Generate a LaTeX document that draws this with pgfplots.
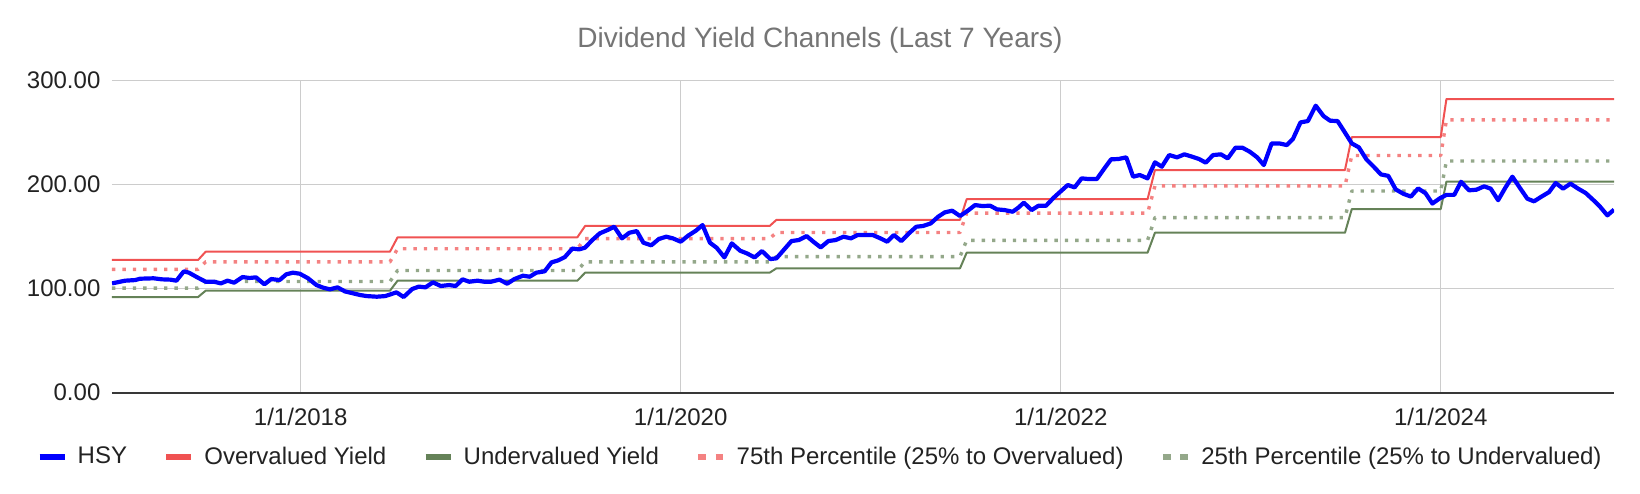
\documentclass[border=0pt]{standalone}
\usepackage{pgfplots}
\pgfplotsset{compat=1.18}
\usepackage{fontspec}
\setmainfont{Liberation Sans}
\definecolor{hsyblue}{RGB}{0,0,255}
\definecolor{overred}{RGB}{240,82,82}
\definecolor{undergreen}{RGB}{101,130,88}
\definecolor{pctred}{RGB}{244,130,130}
\definecolor{pctgreen}{RGB}{148,168,138}
\definecolor{gridgray}{RGB}{204,204,204}
\definecolor{titlegray}{RGB}{117,117,117}
\definecolor{txt}{RGB}{34,34,34}
\begin{document}
\begin{tikzpicture}
\useasboundingbox (0,0) rectangle (820bp,247bp);
\begin{axis}[
  at={(56bp,50.65bp)}, anchor=south west,
  width=751bp, height=156bp, scale only axis,
  xmin=2017.007, xmax=2024.912,
  ymin=0, ymax=300,
  axis line style={draw=none},
  major tick length=0pt,
  xtick={2018,2020,2022,2024},
  xticklabels={1/1/2018,1/1/2020,1/1/2022,1/1/2024},
  ytick={0,100,200,300},
  yticklabel={\pgfmathprintnumber[fixed,fixed zerofill,precision=2]{\tick}},
  /pgf/number format/assume math mode=true,
  tick label style={font=\fontsize{12bp}{14bp}\selectfont, text=txt},
  yticklabel style={xshift=-2.3bp},
  xticklabel style={yshift=-4bp},
  xmajorgrids, ymajorgrids,
  grid style={gridgray, line width=0.6bp},
  extra y ticks={0},
  extra y tick labels={},
  extra y tick style={grid style={draw=txt!90, line width=1.1bp}},
  reverse legend,
  legend columns=-1,
  legend style={at={(0.472,-0.206)}, anchor=center, draw=none, fill=none,
    font=\fontsize{12bp}{14bp}\selectfont, text=txt,
    /tikz/every even column/.append style={column sep=16bp},
    /tikz/every odd column/.append style={column sep=3bp}},
  line join=round,
]
% 25th percentile
\addplot[pctgreen, line width=1.7bp, dash pattern=on 1.7bp off 3.5bp,
  legend image code/.code={\draw[pctgreen, solid, line width=3.4bp] (0bp,0bp) -- (3.8bp,0bp); \draw[pctgreen, solid, line width=3.4bp] (8.7bp,0bp) -- (12.5bp,0bp);}]
coordinates {(2017.007,100.6) (2017.46,100.6) (2017.50,106.9) (2018.47,106.9) (2018.51,117.5) (2019.456,117.5) (2019.497,125.8) (2020.468,125.8) (2020.504,130.9) (2021.47,130.9) (2021.505,146.5) (2022.457,146.5) (2022.496,168.4) (2023.496,168.4) (2023.532,193.9) (2024.0,193.9) (2024.03,222.8) (2024.912,222.8)};
\addlegendentry{25th Percentile (25\% to Undervalued)}
% 75th percentile
\addplot[pctred, line width=1.7bp, dash pattern=on 1.7bp off 3.5bp,
  legend image code/.code={\draw[pctred, solid, line width=3.4bp] (0bp,0bp) -- (3.8bp,0bp); \draw[pctred, solid, line width=3.4bp] (8.7bp,0bp) -- (12.5bp,0bp);}]
coordinates {(2017.007,118.6) (2017.46,118.6) (2017.50,125.8) (2018.47,125.8) (2018.51,138.4) (2019.456,138.4) (2019.497,148.2) (2020.468,148.2) (2020.504,154.0) (2021.47,154.0) (2021.505,172.6) (2022.457,172.6) (2022.496,198.8) (2023.496,198.8) (2023.532,228.1) (2024.0,228.1) (2024.03,262.3) (2024.912,262.3)};
\addlegendentry{75th Percentile (25\% to Overvalued)}
% Undervalued
\addplot[undergreen, line width=1bp,
  legend image code/.code={\draw[undergreen, solid, line width=3.2bp] (0bp,0bp) -- (12.5bp,0bp);}]
coordinates {(2017.007,92.0) (2017.46,92.0) (2017.50,98.1) (2018.47,98.1) (2018.51,107.7) (2019.456,107.7) (2019.497,115.4) (2020.468,115.4) (2020.504,119.6) (2021.47,119.6) (2021.505,134.6) (2022.457,134.6) (2022.496,153.8) (2023.496,153.8) (2023.532,176.6) (2024.0,176.6) (2024.03,202.9) (2024.912,202.9)};
\addlegendentry{Undervalued Yield}
% Overvalued
\addplot[overred, line width=1bp,
  legend image code/.code={\draw[overred, solid, line width=3.2bp] (0bp,0bp) -- (12.5bp,0bp);}]
coordinates {(2017.007,127.6) (2017.46,127.6) (2017.50,135.6) (2018.47,135.6) (2018.51,149.4) (2019.456,149.4) (2019.497,160.3) (2020.468,160.3) (2020.504,166.2) (2021.47,166.2) (2021.505,186.1) (2022.457,186.1) (2022.496,214.1) (2023.496,214.1) (2023.532,245.8) (2024.0,245.8) (2024.03,282.4) (2024.912,282.4)};
\addlegendentry{Overvalued Yield}
% HSY
\addplot[hsyblue, line width=2.1bp,
  legend image code/.code={\draw[hsyblue, solid, line width=3.2bp] (0bp,0bp) -- (12.5bp,0bp);}]
coordinates {
(2017.007,105.1) (2017.076,107.7) (2017.129,108.3) (2017.155,109.6) (2017.226,110.0) (2017.270,109.0) (2017.314,108.7) (2017.346,107.7) (2017.385,116.7) (2017.412,115.4) (2017.456,110.9) (2017.500,106.7) (2017.544,106.7) (2017.580,105.1) (2017.615,107.7) (2017.650,105.8) (2017.694,111.2) (2017.730,110.3) (2017.765,110.9) (2017.809,104.2) (2017.845,109.3) (2017.889,108.3) (2017.924,113.8) (2017.959,115.4) (2017.995,114.4)
(2018.039,110.0) (2018.083,103.5) (2018.118,101.0) (2018.154,99.4) (2018.194,101.3) (2018.233,97.4) (2018.277,95.5) (2018.313,93.9) (2018.348,92.9) (2018.401,92.3) (2018.445,92.9) (2018.472,94.5) (2018.504,96.5) (2018.542,92.0) (2018.587,99.7) (2018.622,102.0) (2018.657,101.3) (2018.696,106.1) (2018.737,102.6) (2018.781,103.5) (2018.816,102.6) (2018.852,109.0) (2018.887,106.7) (2018.931,107.7) (2018.966,106.7)
(2019.002,106.7) (2019.046,108.7) (2019.087,104.8) (2019.125,109.3) (2019.170,112.5) (2019.205,111.5) (2019.240,115.4) (2019.284,116.7) (2019.320,125.3) (2019.355,127.2) (2019.390,130.4) (2019.430,138.6) (2019.465,137.8) (2019.496,139.4) (2019.535,146.8) (2019.574,153.2) (2019.615,156.4) (2019.650,159.6) (2019.691,148.4) (2019.730,153.8) (2019.769,155.4) (2019.804,144.2) (2019.845,141.7) (2019.885,147.8) (2019.924,150.0) (2019.959,148.4)
(2020.000,145.2) (2020.039,151.0) (2020.080,155.8) (2020.115,161.2) (2020.154,144.2) (2020.189,139.4) (2020.230,130.1) (2020.269,143.6) (2020.313,136.5) (2020.348,134.0) (2020.389,130.1) (2020.428,136.2) (2020.472,128.5) (2020.504,129.2) (2020.542,137.2) (2020.583,145.8) (2020.622,146.8) (2020.663,150.6) (2020.698,145.2) (2020.737,139.7) (2020.777,145.8) (2020.816,146.8) (2020.857,150.0) (2020.896,148.4) (2020.931,151.6) (2020.975,151.6)
(2021.011,151.6) (2021.051,148.4) (2021.087,145.2) (2021.122,151.6) (2021.161,145.8) (2021.201,153.2) (2021.240,159.6) (2021.276,160.3) (2021.316,162.8) (2021.355,169.2) (2021.390,173.4) (2021.429,175.0) (2021.470,169.9) (2021.511,175.0) (2021.549,180.4) (2021.588,179.5) (2021.629,179.8) (2021.664,176.3) (2021.705,175.6) (2021.747,174.0) (2021.776,177.8) (2021.806,182.7) (2021.847,175.6) (2021.883,179.8) (2021.923,179.8) (2021.963,187.5) (2021.998,193.3)
(2022.037,199.7) (2022.073,197.4) (2022.110,206.1) (2022.149,205.4) (2022.190,205.4) (2022.230,215.7) (2022.265,224.4) (2022.304,224.7) (2022.345,226.3) (2022.381,207.7) (2022.416,209.3) (2022.457,206.1) (2022.496,221.5) (2022.532,217.3) (2022.571,228.5) (2022.612,226.3) (2022.651,229.2) (2022.692,226.9) (2022.728,224.7) (2022.763,221.2) (2022.802,228.5) (2022.843,229.2) (2022.879,225.3) (2022.920,235.6) (2022.956,235.6) (2022.995,231.7)
(2023.034,226.3) (2023.069,218.9) (2023.110,239.7) (2023.151,239.7) (2023.190,238.1) (2023.222,243.9) (2023.262,259.9) (2023.301,261.2) (2023.342,276.0) (2023.383,266.0) (2023.418,261.5) (2023.457,261.2) (2023.493,251.0) (2023.532,239.7) (2023.569,235.9) (2023.609,224.3) (2023.649,217.0) (2023.685,209.9) (2023.724,208.5) (2023.763,195.5) (2023.804,191.2) (2023.843,188.6) (2023.881,196.4) (2023.920,191.8) (2023.956,181.9) (2023.996,187.0)
(2024.030,190.2) (2024.071,190.2) (2024.107,202.8) (2024.149,194.6) (2024.188,195.2) (2024.228,198.4) (2024.263,196.2) (2024.302,185.1) (2024.340,197.1) (2024.377,207.7) (2024.416,197.1) (2024.456,186.5) (2024.491,184.0) (2024.530,188.5) (2024.570,192.9) (2024.605,201.6) (2024.644,196.2) (2024.683,201.0) (2024.723,196.2) (2024.763,192.0) (2024.805,184.9) (2024.840,178.5) (2024.877,170.5) (2024.912,176.0)
};
\addlegendentry{HSY}
\end{axis}
\node[font=\fontsize{14bp}{16bp}\selectfont, text=titlegray] at (410bp,227bp) {Dividend Yield Channels (Last 7 Years)};
\end{tikzpicture}
\end{document}
